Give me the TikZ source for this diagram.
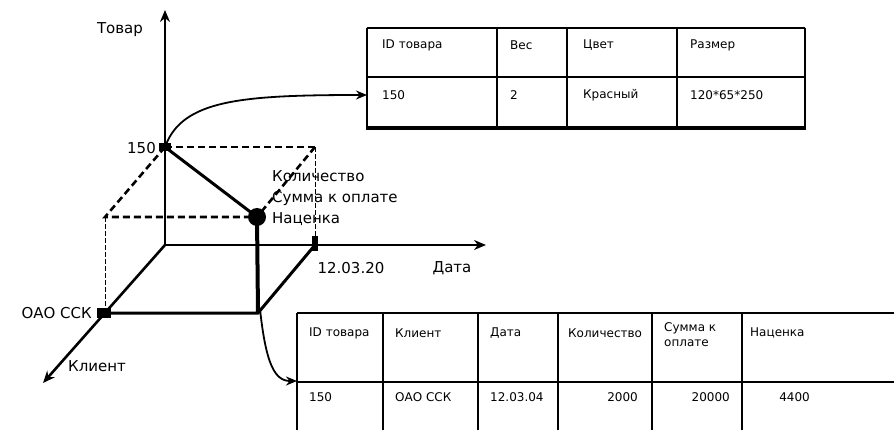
\documentclass[tikz,border=0pt]{standalone}
\usepackage{fontspec}
\setmainfont{DejaVu Sans}
\usetikzlibrary{arrows.meta, calc}

\begin{document}
\begin{tikzpicture}[x=1pt, y=-1pt,
    axisLine/.style={line width=2.6pt, -{Stealth[length=12pt,width=10pt]}},
    edgeLine/.style={line width=3pt},
    guideLine/.style={line width=2.6pt, dash pattern=on 7pt off 4pt},
    thinGuide/.style={line width=1pt, dash pattern=on 5pt off 2pt},
    linkArrow/.style={line width=1.8pt, -{Stealth[length=11pt,width=9pt]}},
    tableLine/.style={line width=2.2pt},
    axisText/.style={font=\fontsize{15}{21}\selectfont, inner sep=0pt},
    cellText/.style={font=\fontsize{12}{15}\selectfont, inner sep=0pt, anchor=west}]
    % Define colours
    \definecolor{lineColour}{HTML}{000000}

    % Fix the frame
    \useasboundingbox (0,0) rectangle (894,430);

    % Define coordinates of the cube
    \coordinate (O) at (165,245);
    \coordinate (T) at (165,10);
    \coordinate (D) at (486,245);
    \coordinate (K) at (43,383);
    \coordinate (P) at (165,147);
    \coordinate (C) at (104,313);
    \coordinate (Dt) at (315,245);
    \coordinate (F) at (257,217);
    \coordinate (Pd) at (315,147);
    \coordinate (Cd) at (105,217);
    \coordinate (Cb) at (105,313);
    \coordinate (B) at (258,313);

    % Draw axes
    \draw[axisLine] (O) -- (T);
    \draw[axisLine, line width=1.6pt] (O) -- (D);
    \draw[axisLine] (O) -- (K);

    % Draw dashed guides
    \draw[guideLine] (P) -- (Pd);
    \draw[guideLine] (P) -- (Cd) -- (F);
    \draw[guideLine] (Pd) -- (F);
    \draw[thinGuide] (Cd) -- (Cb);
    \draw[thinGuide] (Pd) -- (Dt);

    % Draw solid edges
    \draw[edgeLine] (P) -- (F);
    \draw[edgeLine, line width=4pt] (F) -- (B);
    \draw[edgeLine] (C) -- (B) -- (Dt);

    % Draw marks
    \fill[lineColour] ($(P)+(-6,-4)$) rectangle ($(P)+(6,4)$);
    \fill[lineColour] ($(C)+(-7,-5)$) rectangle ($(C)+(7,5)$);
    \fill[lineColour] ($(Dt)+(-3,-9)$) rectangle ($(Dt)+(3,6)$);
    \fill[lineColour] (F) circle (9);

    % Label axes and points
    \node[axisText] (prodLabel) at (120,30) {Товар};
    \node[axisText, anchor=east] (prodValue) at (156,148) {150};
    \node[axisText, anchor=east] (clientValue) at (92,313) {ОАО ССК};
    \node[axisText, anchor=west] (clientLabel) at (68,366) {Клиент};
    \node[axisText] (dateValue) at (351,268) {12.03.20};
    \node[axisText] (dateLabel) at (452,268) {Дата};
    \node[axisText, anchor=north west, align=left] (factLabel) at (272,170)
        {Количество\\Сумма к оплате\\Наценка};

    % Draw product table
    \foreach \x in {367,497,567,677,805}
        \draw[tableLine] (\x,28) -- (\x,128);
    \foreach \y in {28,77}
        \draw[tableLine] (367,\y) -- (805,\y);
    \draw[tableLine, line width=4.5pt] (366,128) -- (806,128);
    \coordinate (prodRow) at (367,95);

    \node[cellText] (pHead1) at (382,45) {ID товара};
    \node[cellText] (pHead2) at (510,45) {Вес};
    \node[cellText] (pHead3) at (583,45) {Цвет};
    \node[cellText] (pHead4) at (690,45) {Размер};
    \node[cellText] (pCell1) at (382,95) {150};
    \node[cellText] (pCell2) at (510,95) {2};
    \node[cellText] (pCell3) at (583,95) {Красный};
    \node[cellText] (pCell4) at (690,95) {120*65*250};

    % Draw fact table
    \foreach \x in {297,383,478,558,652,742}
        \draw[tableLine] (\x,313) -- (\x,432);
    \foreach \y in {313,382}
        \draw[tableLine] (297,\y) -- (896,\y);
    \coordinate (factRow) at (297,381);

    \node[cellText] (fHead1) at (309,333) {ID товара};
    \node[cellText] (fHead2) at (395,333) {Клиент};
    \node[cellText] (fHead3) at (490,333) {Дата};
    \node[cellText] (fHead4) at (568,333) {Количество};
    \node[cellText, anchor=north west, align=left] (fHead5) at (664,322) {Сумма к\\оплате};
    \node[cellText] (fHead6) at (750,333) {Наценка};
    \node[cellText] (fCell1) at (309,397) {150};
    \node[cellText] (fCell2) at (395,397) {ОАО ССК};
    \node[cellText] (fCell3) at (490,397) {12.03.04};
    \node[cellText, anchor=east] (fCell4) at (638,397) {2000};
    \node[cellText, anchor=east] (fCell5) at (730,397) {20000};
    \node[cellText, anchor=east] (fCell6) at (810,397) {4400};

    % Draw links to tables
    \draw[linkArrow] (P) .. controls (182,100) and (240,95) .. (prodRow);
    \draw[linkArrow] ($(B)+(2,-4)$) .. controls (266,365) and (275,381) .. (factRow);
\end{tikzpicture}
\end{document}
